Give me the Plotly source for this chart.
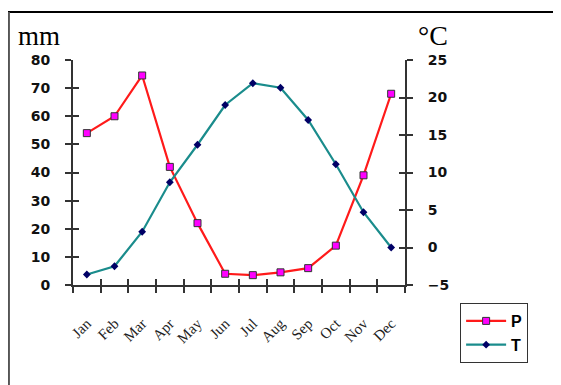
import plotly.graph_objects as go

months = ["Jan", "Feb", "Mar", "Apr", "May", "Jun", "Jul", "Aug", "Sep", "Oct", "Nov", "Dec"]
precip_mm = [54, 60, 74.5, 42, 22, 4, 3.5, 4.5, 6, 14, 39, 68]
temp_c = [-3.6, -2.5, 2.1, 8.7, 13.7, 19, 21.9, 21.3, 17, 11.1, 4.7, 0]
p_ticks = [0, 10, 20, 30, 40, 50, 60, 70, 80]
t_ticks = [-5, 0, 5, 10, 15, 20, 25]

xpos = list(range(1, len(months) + 1))
bounds = [i + 0.5 for i in range(0, len(months) + 1)]

fig = go.Figure()
fig.add_trace(go.Scatter(
    x=xpos, y=precip_mm, name="P", mode="lines+markers", legendgroup="p",
    line=dict(color="#ff1a1a", width=2.2),
    marker=dict(symbol="square", size=7, color="#ff00ff", line=dict(color="#333333", width=1)),
    xaxis="x", yaxis="y"))
fig.add_trace(go.Scatter(
    x=xpos, y=temp_c, name="T", mode="lines+markers", legendgroup="t",
    line=dict(color="#1a8c8c", width=2.2),
    marker=dict(symbol="diamond", size=6, color="#000066"),
    xaxis="x", yaxis="y2"))

axcol = "#333333"
tickfont = dict(family="DejaVu Sans", size=14, color="#111111", weight="bold")
xr = [0.5, 12.5]

fig.update_layout(
    width=553, height=377,
    margin=dict(l=65, r=156, t=52, b=100),
    paper_bgcolor="white", plot_bgcolor="white",
    showlegend=True,
    legend=dict(x=1.166, y=-0.08, xanchor="left", yanchor="top",
                bordercolor="#333333", borderwidth=1,
                font=dict(family="Liberation Sans", size=16, color="black", weight="bold"),
                tracegroupgap=0, itemwidth=40, bgcolor="white"),
    xaxis=dict(range=xr, tickmode="array", tickvals=xpos, ticktext=months,
               ticks="", showline=True, linecolor=axcol, linewidth=2,
               tickangle=-45, ticklabelstandoff=22, showgrid=False, zeroline=False,
               tickfont=dict(family="Liberation Serif", size=15, color="#222222")),
    xaxis2=dict(range=xr, overlaying="x", anchor="y", tickmode="array", tickvals=bounds,
                showticklabels=False, ticks="outside", ticklen=7, tickwidth=1.5, tickcolor=axcol,
                showgrid=False, zeroline=False),
    xaxis3=dict(range=xr, overlaying="x", anchor="y", tickmode="array", tickvals=bounds,
                showticklabels=False, ticks="inside", ticklen=6, tickwidth=1.5, tickcolor=axcol,
                showgrid=False, zeroline=False),
    yaxis=dict(range=[0, 80], tickmode="array", tickvals=p_ticks,
               ticks="outside", ticklen=6, tickwidth=1.5, tickcolor=axcol,
               showline=True, linecolor=axcol, linewidth=2, showgrid=False, zeroline=False,
               tickfont=tickfont, ticklabelstandoff=12),
    yaxis3=dict(range=[0, 80], overlaying="y", anchor="x", tickmode="array", tickvals=p_ticks,
                ticks="inside", ticklen=6, tickwidth=1.5, tickcolor=axcol,
                showticklabels=False, showgrid=False, zeroline=False),
    yaxis2=dict(range=[-5, 25], overlaying="y", side="right", anchor="x", tickmode="array",
                tickvals=t_ticks, ticks="outside", ticklen=6, tickwidth=1.5, tickcolor=axcol,
                showline=True, linecolor=axcol, linewidth=2, showgrid=False, zeroline=False,
                tickfont=tickfont, ticklabelstandoff=12),
    yaxis4=dict(range=[-5, 25], overlaying="y", side="right", anchor="x", tickmode="array",
                tickvals=t_ticks, ticks="inside", ticklen=6, tickwidth=1.5, tickcolor=axcol,
                showticklabels=False, showgrid=False, zeroline=False),
)

# invisible traces to activate overlay tick axes
fig.add_trace(go.Scatter(x=[None], y=[None], xaxis="x2", yaxis="y3", showlegend=False, hoverinfo="skip"))
fig.add_trace(go.Scatter(x=[None], y=[None], xaxis="x3", yaxis="y4", showlegend=False, hoverinfo="skip"))

# axis unit labels
fig.add_annotation(text="mm", xref="paper", yref="paper", x=-0.168, y=1.108, xanchor="left",
                   yanchor="middle", showarrow=False, borderpad=0,
                   font=dict(family="Liberation Serif", size=27, color="black"))
fig.add_annotation(text="°C", xref="paper", yref="paper", x=1.035, y=1.108, xanchor="left",
                   yanchor="middle", showarrow=False, borderpad=0,
                   font=dict(family="Liberation Serif", size=28, color="black"))

# outer frame
fig.add_shape(type="line", xref="paper", yref="paper", x0=-0.23, x1=1.5, y0=1.2133, y1=1.2133,
              line=dict(color="black", width=2))
fig.add_shape(type="line", xref="paper", yref="paper", x0=-0.193, x1=-0.193, y0=1.2133, y1=-0.5,
              line=dict(color="#555555", width=2))

fig.write_html("out.html")
